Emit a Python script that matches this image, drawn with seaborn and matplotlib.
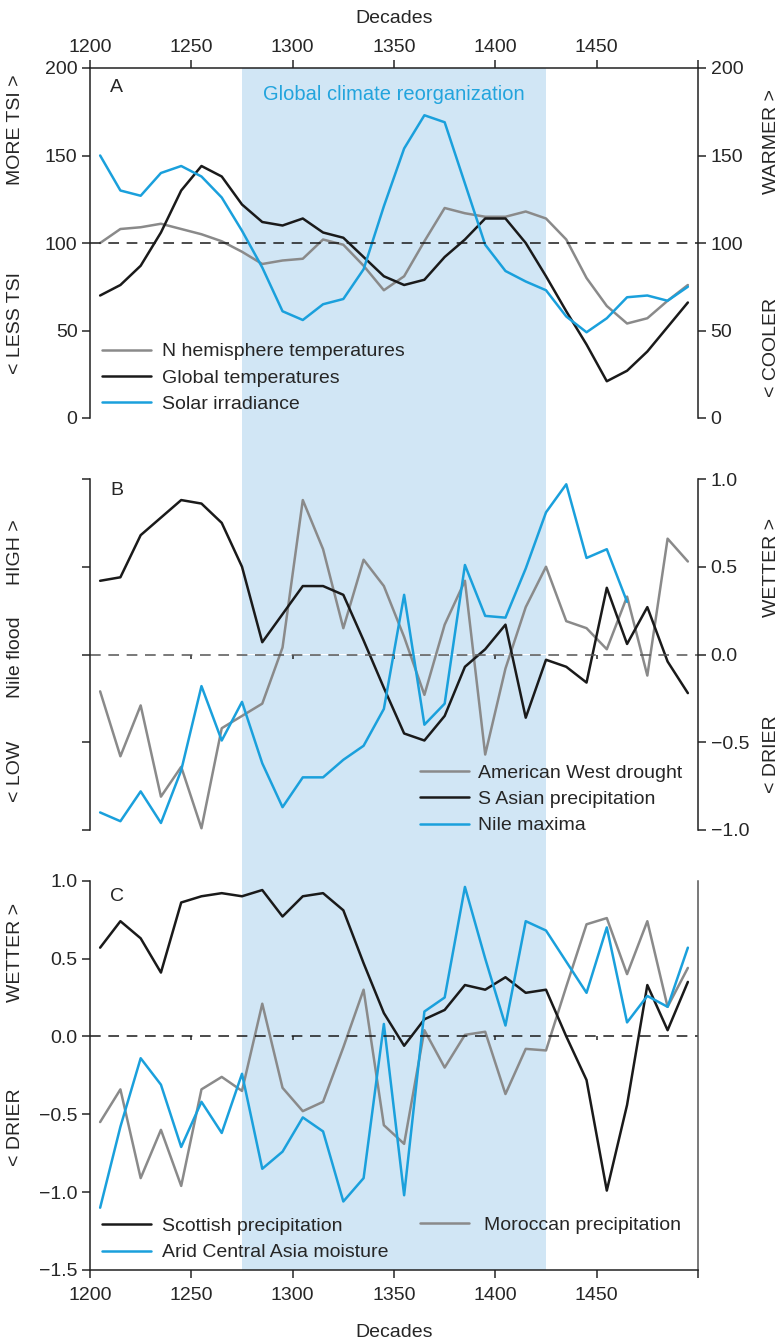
import seaborn as sns
import pandas as pd
import matplotlib.pyplot as plt

# decadas (centro de cada década)
decadas = [1205, 1215, 1225, 1235, 1245, 1255, 1265, 1275, 1285, 1295,
           1305, 1315, 1325, 1335, 1345, 1355, 1365, 1375, 1385, 1395,
           1405, 1415, 1425, 1435, 1445, 1455, 1465, 1475, 1485, 1495]

# Painel A
n_hemisferio = [100, 108, 109, 111, 108, 105, 101, 95, 88, 90,
                91, 102, 99, 87, 73, 81, 101, 120, 117, 115,
                115, 118, 114, 102, 80, 64, 54, 57, 67, 76]
temp_global = [70, 76, 87, 106, 130, 144, 138, 122, 112, 110,
               114, 106, 103, 92, 81, 76, 79, 92, 102, 114,
               114, 100, 81, 61, 42, 21, 27, 38, 52, 66]
irradiancia = [150, 130, 127, 140, 144, 138, 126, 107, 86, 61,
               56, 65, 68, 85, 121, 154, 173, 169, 134, 99,
               84, 78, 73, 58, 49, 57, 69, 70, 67, 75]

# Painel B
seca_oeste = [-0.21, -0.58, -0.29, -0.81, -0.64, -0.99, -0.42, -0.35, -0.28, 0.04,
              0.88, 0.60, 0.15, 0.54, 0.39, 0.10, -0.23, 0.17, 0.42, -0.57,
              -0.08, 0.27, 0.50, 0.19, 0.15, 0.03, 0.33, -0.12, 0.66, 0.53]
chuva_asia_s = [0.42, 0.44, 0.68, 0.78, 0.88, 0.86, 0.75, 0.50, 0.07, 0.23,
                0.39, 0.39, 0.34, 0.08, -0.19, -0.45, -0.49, -0.35, -0.07, 0.03,
                0.17, -0.36, -0.03, -0.07, -0.16, 0.38, 0.06, 0.27, -0.04, -0.22]
nilo_max = [-0.90, -0.95, -0.78, -0.96, -0.66, -0.18, -0.49, -0.27, -0.62, -0.87,
            -0.70, -0.70, -0.60, -0.52, -0.31, 0.34, -0.40, -0.28, 0.51, 0.22,
            0.21, 0.49, 0.81, 0.97, 0.55, 0.60, 0.30]

# Painel C
chuva_escocia = [0.57, 0.74, 0.63, 0.41, 0.86, 0.90, 0.92, 0.90, 0.94, 0.77,
                 0.90, 0.92, 0.81, 0.47, 0.15, -0.06, 0.11, 0.17, 0.33, 0.30,
                 0.38, 0.28, 0.30, 0.00, -0.28, -0.99, -0.44, 0.33, 0.04, 0.35]
chuva_marrocos = [-0.55, -0.34, -0.91, -0.60, -0.96, -0.34, -0.26, -0.35, 0.21, -0.33,
                  -0.48, -0.42, -0.07, 0.30, -0.57, -0.69, 0.04, -0.20, 0.01, 0.03,
                  -0.37, -0.08, -0.09, 0.32, 0.72, 0.76, 0.40, 0.74, 0.19, 0.44]
umidade_asia_c = [-1.10, -0.58, -0.14, -0.31, -0.71, -0.42, -0.62, -0.24, -0.85, -0.74,
                  -0.52, -0.61, -1.06, -0.91, 0.08, -1.02, 0.16, 0.25, 0.96, 0.50,
                  0.07, 0.74, 0.68, 0.48, 0.28, 0.70, 0.09, 0.26, 0.19, 0.57]

ticks_x = [1200, 1250, 1300, 1350, 1400, 1450, 1500]
rotulos_x = ["1200", "1250", "1300", "1350", "1400", "1450", ""]

CINZA = "#8a8a8a"
PRETO = "#1a1a1a"
AZUL = "#1aa0dc"
FAIXA = "#d1e6f5"

sns.set_style("ticks")
plt.rcParams['font.family'] = ['Liberation Sans', 'DejaVu Sans']
plt.rcParams['font.size'] = 14
plt.rcParams['axes.linewidth'] = 1.1
plt.rcParams['xtick.major.width'] = 1.1
plt.rcParams['ytick.major.width'] = 1.1
plt.rcParams['xtick.major.size'] = 5.5
plt.rcParams['ytick.major.size'] = 5.5
plt.rcParams['axes.edgecolor'] = "#222222"
plt.rcParams['axes.unicode_minus'] = True

W, H = 782, 1344
fig = plt.figure(figsize=(W / 100, H / 100), dpi=100)


def caixa(x0, y0, x1, y1):
    return [x0 / W, 1 - y1 / H, (x1 - x0) / W, (y1 - y0) / H]


# faixa de fundo contínua
ax_bg = fig.add_axes(caixa(90, 68, 698, 1270))
ax_bg.set_xlim(1200, 1500)
ax_bg.axvspan(1275, 1425, color=FAIXA, lw=0)
ax_bg.axis('off')

lw = 1.8
leg_kw = dict(loc='upper left', frameon=False, borderpad=0, borderaxespad=0,
              handlelength=2.5, labelspacing=0.45)

# ---------- Painel A ----------
axA = fig.add_axes(caixa(90, 68, 698, 418))
axA.set_facecolor('none')
sns.lineplot(x=decadas, y=n_hemisferio, color=CINZA, lw=lw, label="N hemisphere temperatures", ax=axA)
sns.lineplot(x=decadas, y=temp_global, color=PRETO, lw=lw, label="Global temperatures", ax=axA)
sns.lineplot(x=decadas, y=irradiancia, color=AZUL, lw=lw, label="Solar irradiance", ax=axA)
axA.axhline(100, color=PRETO, lw=1.1, dashes=(7, 5))
axA.set_xlim(1200, 1500)
axA.set_ylim(0, 200)
axA.set_yticks([0, 50, 100, 150, 200])
axA.tick_params(axis='y', left=True, right=True, labelleft=True, labelright=True)
axA.xaxis.tick_top()
axA.set_xticks(ticks_x, rotulos_x)
axA.xaxis.set_label_position('top')
axA.set_xlabel("Decades", labelpad=11)
axA.spines['bottom'].set_visible(False)
axA.text(0.044, 0.945, "A", transform=axA.transAxes, ha='center', va='center', fontsize=14)
axA.text(1350, 185, "Global climate reorganization", color="#22a4dd", ha='center', va='center', fontsize=14.5)
axA.legend(bbox_to_anchor=(0.02, 0.215), handletextpad=0.6, **leg_kw)

# ---------- Painel B ----------
axB = fig.add_axes(caixa(90, 479, 698, 830))
axB.set_facecolor('none')
sns.lineplot(x=decadas, y=seca_oeste, color=CINZA, lw=lw, label="American West drought", ax=axB)
sns.lineplot(x=decadas, y=chuva_asia_s, color=PRETO, lw=lw, label="S Asian precipitation", ax=axB)
sns.lineplot(x=decadas[:len(nilo_max)], y=nilo_max, color=AZUL, lw=lw, label="Nile maxima", ax=axB)
axB.axhline(0, color="#555555", lw=1.1, dashes=(7, 5))
axB.set_xlim(1200, 1500)
axB.set_ylim(-1, 1)
axB.set_yticks([-1.0, -0.5, 0.0, 0.5, 1.0])
axB.tick_params(axis='y', left=True, right=True, labelleft=False, labelright=True)
axB.tick_params(axis='x', bottom=False, labelbottom=False)
axB.spines['top'].set_visible(False)
axB.spines['bottom'].set_visible(False)
zeroB = axB.secondary_xaxis(0.5)
zeroB.set_alignment('bottom')
zeroB.set_xticks([1250, 1300, 1350, 1400, 1450])
zeroB.tick_params(length=3, labelbottom=False)
zeroB.spines['bottom'].set_visible(False)
axB.text(0.044, 0.966, "B", transform=axB.transAxes, ha='center', va='center', fontsize=14)
axB.legend(bbox_to_anchor=(0.543, 0.188), handletextpad=0.5, **leg_kw)

# ---------- Painel C ----------
axC = fig.add_axes(caixa(90, 880.7, 698, 1270))
axC.set_facecolor('none')
sns.lineplot(x=decadas, y=chuva_marrocos, color=CINZA, lw=lw, ax=axC)
sns.lineplot(x=decadas, y=chuva_escocia, color=PRETO, lw=lw, ax=axC)
sns.lineplot(x=decadas, y=umidade_asia_c, color=AZUL, lw=lw, ax=axC)
linhas = axC.get_lines()
axC.axhline(0, color=PRETO, lw=1.1, dashes=(7, 5))
axC.set_xlim(1200, 1500)
axC.set_ylim(-1.5, 1.0)
axC.set_yticks([-1.5, -1.0, -0.5, 0.0, 0.5, 1.0])
axC.set_xticks(ticks_x, rotulos_x)
axC.tick_params(axis='x', pad=7)
axC.set_xlabel("Decades", labelpad=14)
axC.spines['top'].set_visible(False)
axC.spines['right'].set_color("#555555")
zeroC = axC.secondary_xaxis(0.6)
zeroC.set_alignment('bottom')
zeroC.set_xticks([1250, 1300, 1350, 1400, 1450])
zeroC.tick_params(length=3, labelbottom=False)
zeroC.spines['bottom'].set_visible(False)
axC.text(0.044, 0.96, "C", transform=axC.transAxes, ha='center', va='center', fontsize=14)
leg1 = axC.legend([linhas[1], linhas[2]], ["Scottish precipitation", "Arid Central Asia moisture"],
                  bbox_to_anchor=(0.02, 0.135), handletextpad=0.6, **leg_kw)
axC.add_artist(leg1)
axC.legend([linhas[0]], ["Moroccan precipitation"],
           bbox_to_anchor=(0.543, 0.137), handletextpad=0.8, **leg_kw)

# rótulos dos eixos y
fig.text(16 / W, 1 - 130 / H, "MORE TSI >", rotation=90, ha='center', va='center')
fig.text(16 / W, 1 - 323 / H, "< LESS TSI", rotation=90, ha='center', va='center')
fig.text(772 / W, 1 - 141 / H, "WARMER >", rotation=90, ha='center', va='center')
fig.text(772 / W, 1 - 347 / H, "< COOLER", rotation=90, ha='center', va='center')
fig.text(16 / W, 1 - 552 / H, "HIGH >", rotation=90, ha='center', va='center')
fig.text(16 / W, 1 - 657 / H, "Nile flood", rotation=90, ha='center', va='center')
fig.text(16 / W, 1 - 771 / H, "< LOW", rotation=90, ha='center', va='center')
fig.text(772 / W, 1 - 567 / H, "WETTER >", rotation=90, ha='center', va='center')
fig.text(772 / W, 1 - 754 / H, "< DRIER", rotation=90, ha='center', va='center')
fig.text(16 / W, 1 - 952 / H, "WETTER >", rotation=90, ha='center', va='center')
fig.text(16 / W, 1 - 1127 / H, "< DRIER", rotation=90, ha='center', va='center')

fig.savefig("out.png", dpi=100)
